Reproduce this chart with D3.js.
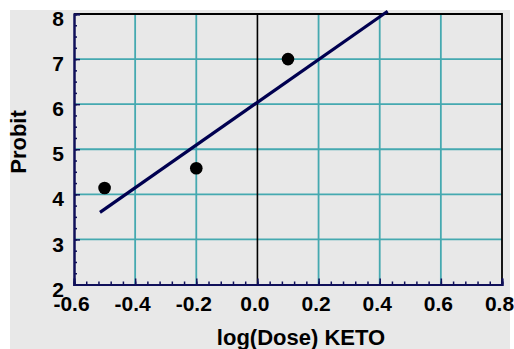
<!DOCTYPE html>
<html><head><meta charset="utf-8">
<script src="https://cdn.jsdelivr.net/npm/d3@7"></script>
<style>
html,body{margin:0;padding:0;background:#fff;}
svg{display:block;}
text{font-family:"Liberation Sans",Arial,sans-serif;font-weight:bold;fill:#000;}
</style></head>
<body>
<svg id="chart" width="514" height="349"></svg>
<script>
// Data
const logDose = [-0.5, -0.2, 0.1];
const probit = [4.14, 4.58, 7.0];
const fitX = [-0.515, 0.426];
const fitY = [3.6, 8.06];
const xTicks = [-0.6, -0.4, -0.2, 0.0, 0.2, 0.4, 0.6, 0.8];
const yTicks = [2, 3, 4, 5, 6, 7, 8];
const xTitle = "log(Dose) KETO";
const yTitle = "Probit";

const svg = d3.select("#chart");
const W = 514, H = 349;
const m = {left: 74, top: 14, right: 502, bottom: 284.5};

svg.append("rect").attr("x", 10).attr("y", 10).attr("width", 500).attr("height", H - 10).attr("fill", "#e8e8e8");

const x = d3.scaleLinear().domain([-0.6, 0.8]).range([m.left, m.right]);
const y = d3.scaleLinear().domain([2, 8]).range([m.bottom, m.top]);

const navy = "#10105a";
const teal = "#45a9b0";

// grid
const g = svg.append("g");
g.selectAll(".vg").data(xTicks.filter(d => Math.abs(d) > 1e-9 && d > -0.6 && d < 0.8)).join("line")
  .attr("x1", d => x(d)).attr("x2", d => x(d)).attr("y1", m.top).attr("y2", m.bottom)
  .attr("stroke", teal).attr("stroke-width", 1.8);
g.selectAll(".hg").data(yTicks.filter(d => d > 2 && d < 8)).join("line")
  .attr("x1", m.left).attr("x2", m.right).attr("y1", d => y(d)).attr("y2", d => y(d))
  .attr("stroke", teal).attr("stroke-width", 1.8);
// zero line
g.append("line").attr("x1", x(0)).attr("x2", x(0)).attr("y1", m.top).attr("y2", m.bottom)
  .attr("stroke", "#000").attr("stroke-width", 1.6);
// frame top/right
g.append("path").attr("d", `M${m.left},${m.top}H${m.right}V${m.bottom}`)
  .attr("fill", "none").attr("stroke", "#000").attr("stroke-width", 1.8);

// axes
const fmtX = d => d3.format(".1f")(d).replace("\u2212", "-");
const xAxis = d3.axisBottom(x).tickValues(xTicks).tickSize(-6).tickPadding(15).tickFormat(fmtX);
const xMinor = d3.axisBottom(x).tickValues(d3.range(-0.6, 0.8001, 0.04)).tickSize(-3).tickFormat("");
const yAxis = d3.axisLeft(y).tickValues(yTicks).tickSize(-6).tickPadding(10).tickFormat(d3.format("d"));
const yMinor = d3.axisLeft(y).tickValues(d3.range(2, 8.001, 0.25)).tickSize(-3).tickFormat("");

function styleAxis(sel) {
  sel.select(".domain").attr("stroke", navy).attr("stroke-width", 2);
  sel.selectAll(".tick line").attr("stroke", navy).attr("stroke-width", 1.5);
  sel.selectAll("text").attr("font-size", 21).attr("font-family", '"Liberation Sans",Arial,sans-serif').attr("font-weight", "bold").attr("fill", "#000");
}
svg.append("g").attr("transform", `translate(0,${m.bottom})`).call(xMinor).call(styleAxis);
svg.append("g").attr("transform", `translate(0,${m.bottom})`).call(xAxis).call(styleAxis)
  .selectAll("text").attr("dy", "0.71em").attr("y", 12).attr("dx", -3);
svg.append("g").attr("transform", `translate(${m.left},0)`).call(yMinor).call(styleAxis);
svg.append("g").attr("transform", `translate(${m.left},0)`).call(yAxis).call(styleAxis)
  .selectAll("text").attr("dy", "0.72em").attr("y", -3.5);

// fitted line
svg.append("line").attr("x1", x(fitX[0])).attr("y1", y(fitY[0])).attr("x2", x(fitX[1])).attr("y2", y(fitY[1]))
  .attr("stroke", "#000050").attr("stroke-width", 3.2);

// points
svg.selectAll(".pt").data(logDose.map((d, i) => [d, probit[i]])).join("circle")
  .attr("cx", d => x(d[0])).attr("cy", d => y(d[1])).attr("r", 6.3).attr("fill", "#000");

// titles
svg.append("text").attr("x", 301).attr("y", 345).attr("text-anchor", "middle").attr("font-size", 22).text(xTitle);
svg.append("text").attr("transform", "translate(26,142) rotate(-90)").attr("text-anchor", "middle").attr("font-size", 22).text(yTitle);
</script>
</body></html>
